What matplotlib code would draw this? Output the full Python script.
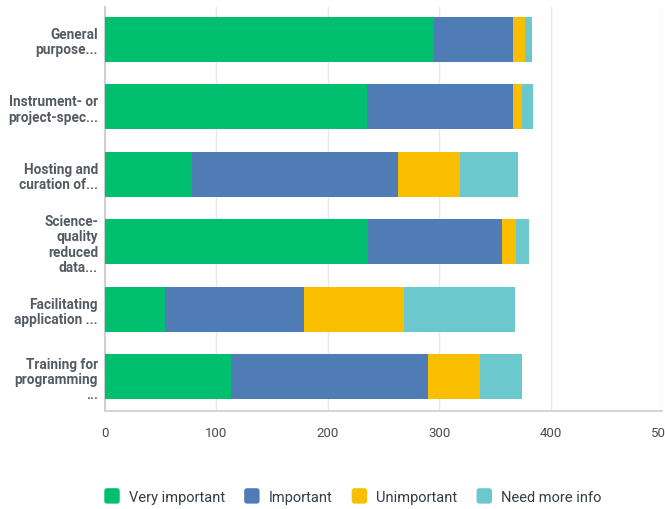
import matplotlib
matplotlib.use("Agg")
import matplotlib.pyplot as plt
import numpy as np
from matplotlib.patches import FancyBboxPatch, Patch
from matplotlib.legend_handler import HandlerPatch

categories = [
    "General\npurpose...",
    "Instrument- or\nproject-spec...",
    "Hosting and\ncuration of...",
    "Science-\nquality\nreduced\ndata...",
    "Facilitating\napplication ...",
    "Training for\nprogramming\n...",
]
series_names = ["Very important", "Important", "Unimportant", "Need more info"]
very_important = [295, 235, 78, 236, 54, 113]
important = [71, 131, 185, 120, 125, 177]
unimportant = [11, 8, 56, 13, 89, 47]
need_more_info = [6, 10, 52, 12, 100, 37]
x_ticks = [0, 100, 200, 300, 400, 500]

colors = ["#00BF6F", "#507CB6", "#F9BE00", "#6BC8CD"]
plt.rcParams['font.family'] = ['Roboto', 'DejaVu Sans']

fig = plt.figure(figsize=(6.65, 5.10), dpi=100)
ax = fig.add_axes([105/665, (510-411.5)/510, (662-105)/665, (411.5-8)/510])

y = np.arange(len(categories))
left = np.zeros(len(categories))
for name, vals, c in zip(series_names, [very_important, important, unimportant, need_more_info], colors):
    ax.barh(y, vals, left=left, height=0.67, color=c, label=name, zorder=3)
    left += np.array(vals)

ax.set_xlim(0, 500)
ax.set_ylim(5.5, -0.48)
ax.set_xticks(x_ticks)
ax.set_xticklabels([str(t) for t in x_ticks], fontsize=9.5, color="#4a4a4a")
ax.tick_params(axis='x', length=0, pad=11)
ax.set_yticks(y)
ax.set_yticklabels(categories, fontsize=9.8, fontweight='bold', color="#555b63", linespacing=1.12)
ax.tick_params(axis='y', length=0, pad=5)
ax.grid(axis='x', color="#e8e8e8", linewidth=1, zorder=0)
for s in ["top", "right"]:
    ax.spines[s].set_visible(False)
ax.spines["left"].set_color("#d0d0d0")
ax.spines["left"].set_linewidth(1.5)
ax.spines["bottom"].set_color("#d6d6d6")
ax.spines["bottom"].set_linewidth(1.5)


class RoundHandler(HandlerPatch):
    def create_artists(self, legend, orig_handle, xdescent, ydescent, width, height, fontsize, trans):
        size = min(width, height)
        p = FancyBboxPatch((-xdescent, -ydescent + (height - size) / 2), size, size,
                           boxstyle="round,pad=0,rounding_size=2",
                           facecolor=orig_handle.get_facecolor(), edgecolor='none', transform=trans)
        return [p]


handles = [Patch(facecolor=c, label=n) for c, n in zip(colors, series_names)]
leg = fig.legend(handles=handles, loc='center', bbox_to_anchor=(353/665, (510-497)/510),
                 ncol=4, frameon=False, fontsize=10.5, handlelength=1.25, handleheight=1.25,
                 handletextpad=0.45, columnspacing=1.3,
                 handler_map={Patch: RoundHandler()})
for t in leg.get_texts():
    t.set_color("#333e48")

fig.savefig("out.png", dpi=100)
